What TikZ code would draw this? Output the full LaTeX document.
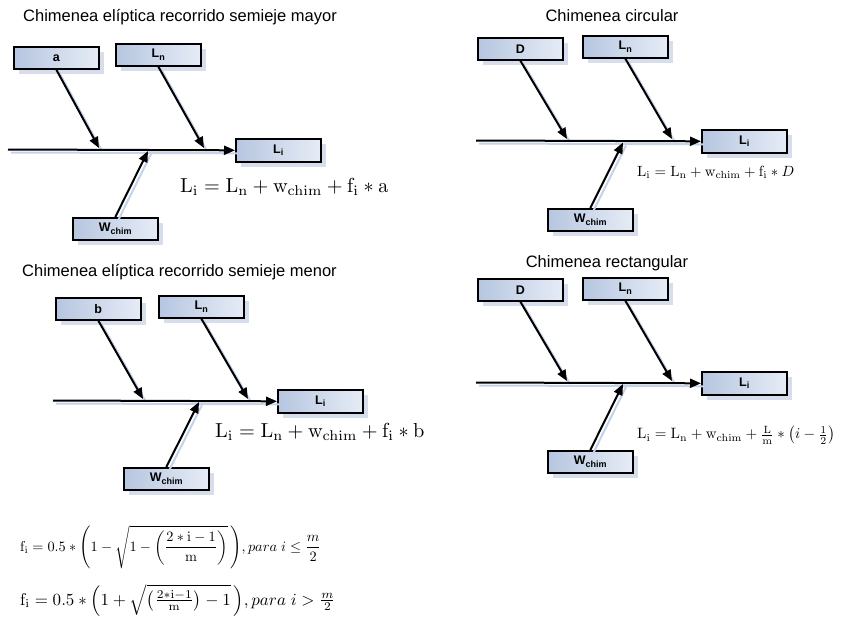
\documentclass[tikz,border=0pt]{standalone}
\usepackage[no-math]{fontspec}
\setmainfont{Liberation Sans}
\usepackage{amsmath}
\usepackage{graphicx}
\usetikzlibrary{arrows.meta,shadows}
\definecolor{boxdark}{RGB}{182,198,224}
\definecolor{boxlight}{RGB}{230,236,246}
\definecolor{boxshadow}{RGB}{214,222,238}
\definecolor{lineshadow}{RGB}{196,210,234}
\newcommand{\lblsub}[1]{\raisebox{-0.35ex}{\fontsize{9}{10}\selectfont #1}}
\tikzset{
  fbox/.style={draw=black, line width=1.6pt, left color=boxdark, right color=boxlight,
    anchor=north west, minimum width=85pt, minimum height=22pt, inner sep=0pt,
    font=\fontsize{12.5}{13}\selectfont\bfseries,
    drop shadow={shadow xshift=5pt, shadow yshift=-5pt, fill=boxshadow, opacity=1}},
  conn/.style={line width=2pt, -{Triangle[length=11pt,width=9pt]}},
  connsh/.style={line width=2pt, draw=lineshadow, transform canvas={shift={(3pt,-3pt)}}},
  ttl/.style={font=\fontsize{16.5}{18}\selectfont, inner sep=0pt},
  eqn/.style={font=\fontsize{10}{12}\selectfont, inner sep=0pt, anchor=west},
}
\begin{document}
\begin{tikzpicture}[x=1pt,y=-1pt]
\useasboundingbox (0,0) rectangle (849,622);
% ---------- Panel 1
\node[ttl] (t1) at (180,17) {Chimenea elíptica recorrido semieje mayor};
\node[fbox] (a1) at (13,46) {a};
\node[fbox] (n1) at (115,43) {L\lblsub{n}};
\node[fbox, minimum height=23pt] (i1) at (235,138) {L\lblsub{i}};
\node[fbox] (w1) at (72,217) {W\lblsub{chim}};
\coordinate (s1) at (8,149.5);
\coordinate (pa1) at (99,148);
\coordinate (pn1) at (204,148);
\coordinate (pw1) at (148,151);
\draw[connsh] (s1) -- (i1.west);
\draw[connsh] (a1.south) -- (pa1);
\draw[connsh] (n1.south) -- (pn1);
\draw[connsh] (w1.north) -- (pw1);
\draw[conn] (s1) -- (i1.west);
\draw[conn] (a1.south) -- (pa1);
\draw[conn] (n1.south) -- (pn1);
\draw[conn] (w1.north) -- (pw1);
\node[eqn] (e1) at (180,187) {\scalebox{2.03}{$\mathrm{L_i}=\mathrm{L_n}+\mathrm{w_{chim}}+\mathrm{f_i}\ast\mathrm{a}$}};
% ---------- Panel 2
\node[ttl] (t2) at (612,16) {Chimenea circular};
\node[fbox] (a2) at (477,37) {D};
\node[fbox] (n2) at (582,35) {L\lblsub{n}};
\node[fbox, minimum height=23pt] (i2) at (701,129) {L\lblsub{i}};
\node[fbox] (w2) at (547,208) {W\lblsub{chim}};
\coordinate (s2) at (476,140.5);
\coordinate (pa2) at (567,139);
\coordinate (pn2) at (672,139);
\coordinate (pw2) at (623,142.5);
\draw[connsh] (s2) -- (i2.west);
\draw[connsh] (a2.south) -- (pa2);
\draw[connsh] (n2.south) -- (pn2);
\draw[connsh] (w2.north) -- (pw2);
\draw[conn] (s2) -- (i2.west);
\draw[conn] (a2.south) -- (pa2);
\draw[conn] (n2.south) -- (pn2);
\draw[conn] (w2.north) -- (pw2);
\node[eqn] (e2) at (637,172) {\scalebox{1.48}{$\mathrm{L_i}=\mathrm{L_n}+\mathrm{w_{chim}}+\mathrm{f_i}\ast D$}};
% ---------- Panel 3
\node[ttl, anchor=west] (t3) at (22,272) {Chimenea elíptica recorrido semieje menor};
\node[fbox] (a3) at (55,297) {b};
\node[fbox] (n3) at (158,295) {L\lblsub{n}};
\node[fbox, minimum height=23pt] (i3) at (277,389) {L\lblsub{i}};
\node[fbox] (w3) at (123,467) {W\lblsub{chim}};
\coordinate (s3) at (53,400.5);
\coordinate (pa3) at (143,399);
\coordinate (pn3) at (248,399);
\coordinate (pw3) at (199,402);
\draw[connsh] (s3) -- (i3.west);
\draw[connsh] (a3.south) -- (pa3);
\draw[connsh] (n3.south) -- (pn3);
\draw[connsh] (w3.north) -- (pw3);
\draw[conn] (s3) -- (i3.west);
\draw[conn] (a3.south) -- (pa3);
\draw[conn] (n3.south) -- (pn3);
\draw[conn] (w3.north) -- (pw3);
\node[eqn] (e3) at (215,432) {\scalebox{2.03}{$\mathrm{L_i}=\mathrm{L_n}+\mathrm{w_{chim}}+\mathrm{f_i}\ast\mathrm{b}$}};
% ---------- Panel 4
\node[ttl] (t4) at (607,263) {Chimenea rectangular};
\node[fbox] (a4) at (477,278) {D};
\node[fbox] (n4) at (582,277) {L\lblsub{n}};
\node[fbox, minimum height=23pt] (i4) at (701,371) {L\lblsub{i}};
\node[fbox] (w4) at (547,450) {W\lblsub{chim}};
\coordinate (s4) at (476,382.5);
\coordinate (pa4) at (567,381);
\coordinate (pn4) at (672,381);
\coordinate (pw4) at (623,384);
\draw[connsh] (s4) -- (i4.west);
\draw[connsh] (a4.south) -- (pa4);
\draw[connsh] (n4.south) -- (pn4);
\draw[connsh] (w4.north) -- (pw4);
\draw[conn] (s4) -- (i4.west);
\draw[conn] (a4.south) -- (pa4);
\draw[conn] (n4.south) -- (pn4);
\draw[conn] (w4.north) -- (pw4);
\node[eqn] (e4) at (637,435) {\scalebox{1.5}{$\mathrm{L_i}=\mathrm{L_n}+\mathrm{w_{chim}}+\frac{\mathrm{L}}{\mathrm{m}}\ast\left(i-\frac{1}{2}\right)$}};
% ---------- Bottom formulas
\node[eqn] (f1) at (20,547)
  {\scalebox{1.43}{$\mathrm{f_i}=0.5\ast\left(1-\sqrt{1-\left(\dfrac{2\ast\mathrm{i}-1}{\mathrm{m}}\right)}\,\right)\!,para\ i\leq\dfrac{m}{2}$}};
\node[eqn] (f2) at (20,600)
  {\scalebox{1.70}{$\mathrm{f_i}=0.5\ast\left(1+\sqrt{\left(\frac{2\ast\mathrm{i}-1}{\mathrm{m}}\right)-1}\,\right)\!,para\ i>\frac{m}{2}$}};
\end{tikzpicture}
\end{document}
